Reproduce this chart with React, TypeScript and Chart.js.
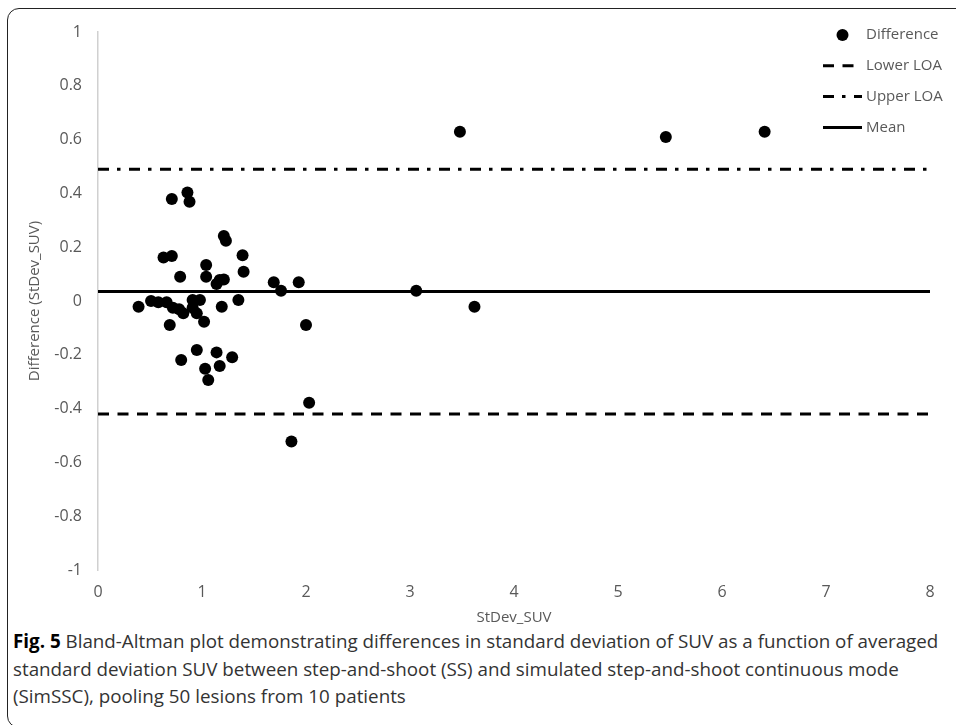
import React, { useEffect, useRef } from "react";
import { Chart, registerables } from "chart.js";

Chart.register(...registerables);

// Averaged standard deviation of SUV (x) and difference (y), 50 lesions
const avgStDev = [
  0.71, 0.86, 0.88, 1.21, 1.23, 0.63, 0.71, 1.39, 1.04, 1.4, 0.79, 1.04, 1.14, 1.17, 1.21, 1.69, 1.76, 1.93,
  0.39, 0.51, 0.58, 0.66, 0.72, 0.78, 0.82, 0.69, 0.91, 0.98, 0.91, 0.95, 1.02, 1.19, 1.35, 2.0,
  0.8, 0.95, 1.14, 1.29, 1.03, 1.17, 1.06, 2.03, 1.86,
  3.06, 3.62, 3.48, 5.46, 6.41,
];
const diffStDev = [
  0.379, 0.403, 0.369, 0.242, 0.224, 0.162, 0.167, 0.17, 0.134, 0.109, 0.09, 0.09, 0.063, 0.078, 0.08, 0.07, 0.038, 0.07,
  -0.021, 0.0, -0.005, -0.005, -0.025, -0.031, -0.046, -0.089, 0.004, 0.004, -0.025, -0.046, -0.077, -0.021, 0.004, -0.089,
  -0.219, -0.182, -0.191, -0.209, -0.252, -0.242, -0.294, -0.378, -0.522,
  0.038, -0.021, 0.629, 0.61, 0.629,
];
const meanDiff = 0.035;
const upperLOA = 0.49;
const lowerLOA = -0.42;
const xLimits = [0, 8];
const yLimits = [-1, 1];
const seriesNames = ["Difference", "Lower LOA", "Upper LOA", "Mean"];
const xTitle = "StDev_SUV";
const yTitle = "Difference (StDev_SUV)";

const GRAY = "#595959";
const FONT = "'Open Sans', sans-serif";
const DASH = [11, 8.5];
const DASHDOT = [11, 8, 3.5, 8.5];

const legendPlugin = {
  id: "customLegend",
  afterDraw(chart: any) {
    const { ctx, chartArea } = chart;
    const x0 = chartArea.right - 107;
    const tx = chartArea.right - 64;
    const y0 = chartArea.top + 3;
    const step = 30.8;
    ctx.save();
    ctx.font = `15px ${FONT}`;
    ctx.fillStyle = GRAY;
    ctx.textBaseline = "middle";
    ctx.textAlign = "left";
    seriesNames.forEach((name, i) => {
      const y = y0 + i * step;
      ctx.save();
      ctx.strokeStyle = "#000";
      ctx.fillStyle = "#000";
      ctx.lineWidth = 3;
      if (i === 0) {
        ctx.beginPath();
        ctx.arc(x0 + 19.5, y, 6, 0, Math.PI * 2);
        ctx.fill();
      } else {
        ctx.setLineDash(i === 1 ? DASH : i === 2 ? DASHDOT : []);
        ctx.beginPath();
        ctx.moveTo(x0, y);
        ctx.lineTo(x0 + 39, y);
        ctx.stroke();
      }
      ctx.restore();
      ctx.fillText(name, tx, y);
    });
    ctx.restore();
  },
};

function App() {
  const ref = useRef<HTMLCanvasElement | null>(null);

  useEffect(() => {
    if (!ref.current) return;
    const points = avgStDev.map((x, i) => ({ x, y: diffStDev[i] }));
    const hline = (v: number) => [
      { x: xLimits[0], y: v },
      { x: xLimits[1], y: v },
    ];
    const chart = new Chart(ref.current, {
      type: "scatter",
      data: {
        datasets: [
          {
            label: seriesNames[0],
            data: points,
            backgroundColor: "#000",
            borderWidth: 0,
            pointRadius: 6,
            pointHoverRadius: 6,
            order: 0,
          } as any,
          {
            label: seriesNames[1],
            data: hline(lowerLOA),
            showLine: true,
            borderColor: "#000",
            borderWidth: 3,
            borderDash: DASH,
            pointRadius: 0,
            order: 1,
          },
          {
            label: seriesNames[2],
            data: hline(upperLOA),
            showLine: true,
            borderColor: "#000",
            borderWidth: 3,
            borderDash: DASHDOT,
            pointRadius: 0,
            order: 1,
          },
          {
            label: seriesNames[3],
            data: hline(meanDiff),
            showLine: true,
            borderColor: "#000",
            borderWidth: 3,
            pointRadius: 0,
            order: 1,
          },
        ],
      },
      options: {
        responsive: false,
        animation: false,
        devicePixelRatio: 1,
        layout: { padding: { left: 26, right: 26, top: 32, bottom: 0 } },
        plugins: {
          legend: { display: false },
          tooltip: { enabled: false },
        },
        scales: {
          x: {
            type: "linear",
            min: xLimits[0],
            max: xLimits[1],
            afterFit: (s: any) => {
              s.height = 57;
            },
            ticks: {
              stepSize: 1,
              color: GRAY,
              font: { family: FONT, size: 16 },
              padding: 13,
            },
            grid: { display: false, drawTicks: false },
            border: { display: false },
            title: {
              display: true,
              text: xTitle,
              color: GRAY,
              font: { family: FONT, size: 15 },
              padding: 0,
            },
          },
          y: {
            type: "linear",
            min: yLimits[0],
            max: yLimits[1],
            afterFit: (s: any) => {
              s.width = 72;
            },
            ticks: {
              stepSize: 0.2,
              color: GRAY,
              font: { family: FONT, size: 16 },
              padding: 16,
              callback: (v: any) => String(Number(Number(v).toFixed(1))),
            },
            grid: { display: true, color: "rgba(0,0,0,0)", drawTicks: false },
            border: { display: true, color: "#d0d0d0", width: 1.5 },
            title: {
              display: true,
              text: yTitle,
              color: GRAY,
              font: { family: FONT, size: 15 },
              padding: 0,
            },
          },
        },
      },
      plugins: [legendPlugin],
    });
    return () => chart.destroy();
  }, []);

  return (
    <div
      style={{
        position: "absolute",
        left: 0,
        top: 0,
        width: 956,
        height: 725,
        overflow: "hidden",
        background: "#fff",
      }}
    >
      <div
        style={{
          position: "absolute",
          left: 7,
          top: 8,
          width: 1000,
          height: 720,
          border: "1.5px solid #222",
          borderRadius: 12,
          boxSizing: "border-box",
        }}
      />
      <canvas
        ref={ref}
        width={956}
        height={627}
        style={{ position: "absolute", left: 0, top: 0, width: 956, height: 627 }}
      />
      <div
        style={{
          position: "absolute",
          left: 13,
          top: 628,
          whiteSpace: "nowrap",
          fontFamily: FONT,
          fontSize: 18.8,
          lineHeight: "27.5px",
          color: "#333",
        }}
      >
        <b style={{ color: "#000" }}>Fig. 5</b> Bland-Altman plot demonstrating differences in standard deviation of SUV as a function of averaged
        <br />
        standard deviation SUV between step-and-shoot (SS) and simulated step-and-shoot continuous mode
        <br />
        (SimSSC), pooling 50 lesions from 10 patients
      </div>
    </div>
  );
}

export default App;
